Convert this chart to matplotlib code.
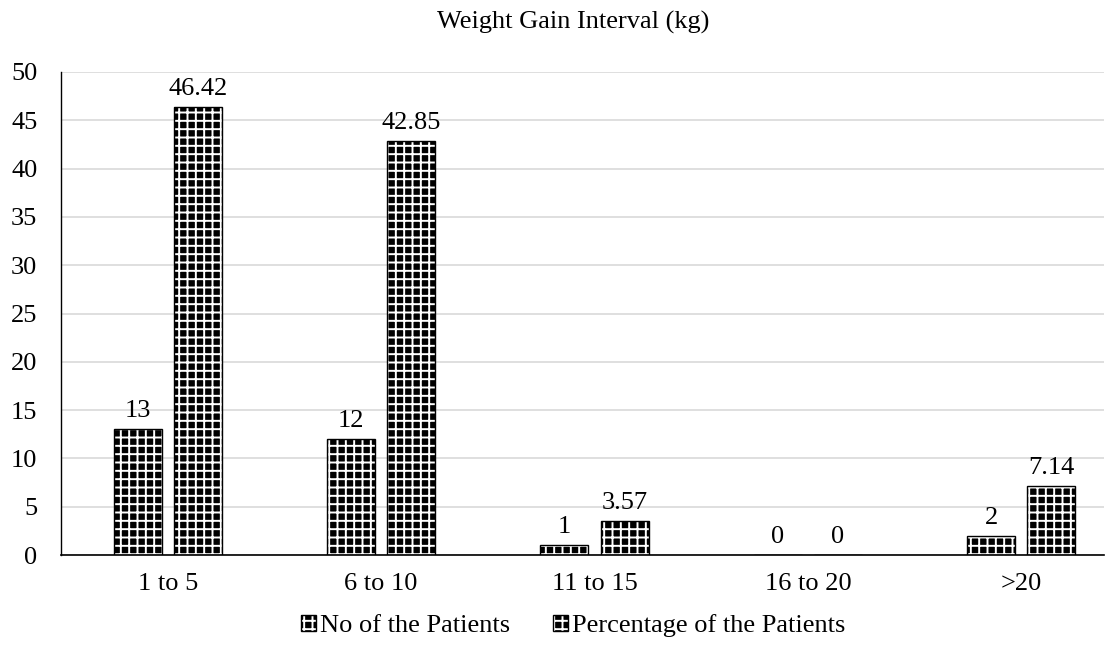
import numpy as np
import matplotlib.pyplot as plt
from matplotlib.patches import Patch

plt.rcParams['font.family'] = ['Liberation Serif', 'DejaVu Serif']
plt.rcParams['hatch.linewidth'] = 1.4

# Datos
categorias = ['1 to 5', '6 to 10', '11 to 15', '16 to 20', '>20']
n_pacientes = [13, 12, 1, 0, 2]
pct_pacientes = [46.42, 42.85, 3.57, 0, 7.14]
etiquetas_n = ['13', '12', '1', '0', '2']
etiquetas_pct = ['46.42', '42.85', '3.57', '0', '7.14']

fig = plt.figure(figsize=(11.06, 6.52), dpi=100)
ax = fig.add_axes([61 / 1106, 1 - 555 / 652, (1104 - 61) / 1106, (555 - 72) / 652])

x = np.arange(len(categorias))
ancho = 0.225
off = 0.141
fs = 19

series = [(n_pacientes, etiquetas_n, -off, '++'), (pct_pacientes, etiquetas_pct, off, '++')]
for vals, etiq, d, h in series:
    # relleno negro con trama blanca
    ax.bar(x + d, vals, ancho, color='black', edgecolor='white', hatch=h, linewidth=0, zorder=2)
    barras = ax.bar(x + d, vals, ancho, fill=False, edgecolor='black', linewidth=1, zorder=3)
    for b, t in zip(barras, etiq):
        ax.annotate(t, (b.get_x() + b.get_width() / 2, b.get_height()),
                    xytext=(0, 5), textcoords='offset points',
                    ha='center', va='bottom', fontsize=fs)

ax.set_ylim(0, 50)
ax.set_yticks(range(0, 51, 5))
ax.set_xlim(-0.5, 4.5 - 24 / 213)
ax.set_xticks(x)
ax.set_xticklabels(categorias)
ax.tick_params(axis='both', length=0, labelsize=fs)
ax.tick_params(axis='x', pad=13)
ax.tick_params(axis='y', pad=17)
ax.yaxis.grid(True, color='#d9d9d9', linewidth=1.2, zorder=0)
ax.set_axisbelow(True)
for s in ['top', 'right']:
    ax.spines[s].set_visible(False)
ax.spines['left'].set_linewidth(1)
ax.spines['bottom'].set_linewidth(1.2)

fig.text(573 / 1106, 1 - 22 / 652, 'Weight Gain Interval (kg)', ha='center', va='center', fontsize=fs)

# marcador de leyenda: trama + borde negro superpuestos
def marcador():
    return (Patch(facecolor='black', edgecolor='white', hatch='++', linewidth=0),
            Patch(fill=False, edgecolor='black', linewidth=1))

fig.legend([marcador(), marcador()], ['No of the Patients', 'Percentage of the Patients'],
           loc='center', bbox_to_anchor=(573 / 1106, 1 - 626 / 652), ncol=2,
           frameon=False, fontsize=fs, handlelength=0.57, handleheight=0.57,
           handletextpad=0.15, columnspacing=1.63)

fig.savefig('out.png', dpi=100)
